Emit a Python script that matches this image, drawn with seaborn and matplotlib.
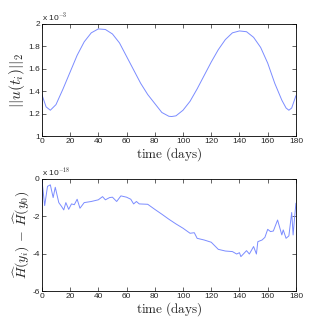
import numpy as np
import pandas as pd
import matplotlib
matplotlib.use('Agg')
import matplotlib.pyplot as plt
import seaborn as sns

# top panel: ||u(t_i)||_2, in units of 1e-3
days_u = [0, 3, 6, 10, 15, 20, 25, 30, 35, 40, 45, 50, 55, 60, 65, 70, 75, 80, 85, 90,
          92, 95, 100, 105, 110, 115, 120, 125, 130, 135, 140, 145, 150, 155, 160, 165,
          170, 173, 175, 177, 180]
norm_u = [1.37, 1.26, 1.23, 1.28, 1.42, 1.57, 1.72, 1.84, 1.92, 1.955, 1.95, 1.91, 1.83,
          1.71, 1.59, 1.47, 1.37, 1.29, 1.21, 1.176, 1.174, 1.18, 1.23, 1.31, 1.42, 1.54,
          1.66, 1.77, 1.86, 1.92, 1.937, 1.93, 1.88, 1.79, 1.65, 1.47, 1.32, 1.25, 1.23,
          1.25, 1.36]

# bottom panel: H(y_i) - H(y_0), in units of 1e-18
days_h = [0, 2, 4, 6, 8, 9.5, 12, 14, 15.5, 17, 19, 21, 23, 25, 27, 30, 35, 40, 43, 45,
          48, 50, 53, 56, 60, 63, 65, 67, 69, 75, 80, 85, 90, 95, 100, 105, 108, 110, 115,
          120, 125, 130, 135, 138, 140, 141, 145, 147, 150, 152, 153, 156, 158, 160, 162,
          164, 167, 170, 171, 173, 175, 177, 178, 179, 180]
delta_h = [-0.05, -1.43, -0.4, -0.32, -1.0, -0.45, -1.27, -1.48, -1.66, -1.27, -1.63, -1.34,
           -1.38, -1.09, -1.57, -1.27, -1.21, -1.12, -0.95, -1.12, -1.0, -0.98, -1.21, -0.91,
           -0.98, -1.09, -1.34, -1.21, -1.34, -1.36, -1.63, -1.89, -2.16, -2.41, -2.64,
           -2.91, -2.88, -3.18, -3.27, -3.39, -3.77, -3.86, -3.89, -4.02, -3.95, -4.16,
           -3.84, -4.02, -3.62, -4.02, -3.36, -3.27, -3.13, -2.70, -2.82, -2.79, -2.20,
           -3.0, -2.73, -3.18, -3.05, -1.80, -3.0, -2.11, -1.30]

sns.set_style("white")
plt.rcParams['font.family'] = ['Liberation Sans', 'DejaVu Sans']
plt.rcParams['mathtext.fontset'] = 'cm'

df_u = pd.DataFrame({'day': days_u, 'val': norm_u})
df_h = pd.DataFrame({'day': days_h, 'val': delta_h})

fig = plt.figure(figsize=(3.27, 3.27), dpi=100)
ax1 = fig.add_axes([0.128, 0.584, 0.777, 0.343])
ax2 = fig.add_axes([0.128, 0.110, 0.777, 0.343])

line_color = '#7b8cff'
sns.lineplot(data=df_u, x='day', y='val', ax=ax1, color=line_color, lw=0.7)
sns.lineplot(data=df_h, x='day', y='val', ax=ax2, color=line_color, lw=0.7)

ax1.set_ylim(1, 2)
ax1.set_yticks([1, 1.2, 1.4, 1.6, 1.8, 2])
ax1.set_yticklabels(['1', '1.2', '1.4', '1.6', '1.8', '2'])
ax2.set_ylim(-6, 0)
ax2.set_yticks([-6, -4, -2, 0])
ax2.set_yticklabels(['-6', '-4', '-2', '0'])

for ax in (ax1, ax2):
    ax.set_xlim(0, 180)
    ax.set_xticks(range(0, 181, 20))
    ax.tick_params(direction='in', length=3, width=0.5, labelsize=6, pad=1.5,
                   top=True, right=True, bottom=True, left=True)
    for s in ax.spines.values():
        s.set_linewidth(0.6)
        s.set_color('black')
    ax.set_xlabel(r'$\mathrm{time\ (days)}$', fontsize=9.5, labelpad=0)

ax1.set_ylabel(r'$||u(t_i)||_2$', fontsize=11, labelpad=1)
ax2.set_ylabel(r'$\widehat{H}(y_i)\,-\,\widehat{H}(y_0)$', fontsize=10, labelpad=1)

ax1.text(0, 1.005, r'x 10$^{-3}$', transform=ax1.transAxes, fontsize=6, va='bottom', ha='left')
ax2.text(0, 1.005, r'x 10$^{-18}$', transform=ax2.transAxes, fontsize=6, va='bottom', ha='left')

fig.savefig('out.png', dpi=100, facecolor='white')
